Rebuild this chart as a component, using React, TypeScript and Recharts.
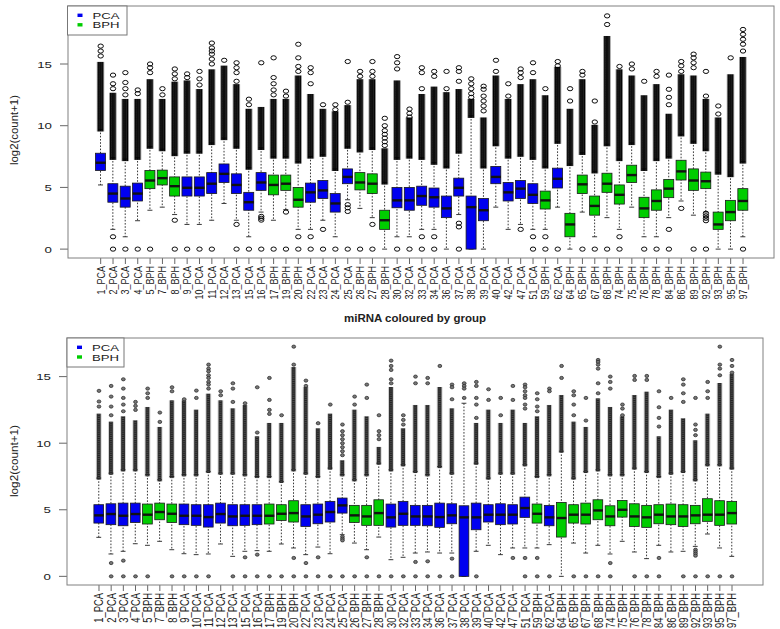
import React from 'react'
import { ComposedChart, Bar, Scatter, XAxis, YAxis } from 'recharts'

// sample order, same for both panels
const labels = [
  '1_PCA', '2_PCA', '3_PCA', '4_PCA', '5_BPH', '7_BPH', '8_BPH', '9_PCA', '10_PCA', '11_PCA',
  '12_PCA', '13_PCA', '15_PCA', '16_PCA', '17_BPH', '19_BPH', '20_BPH', '22_PCA', '23_PCA', '24_PCA',
  '25_PCA', '26_BPH', '27_BPH', '28_BPH', '30_PCA', '32_PCA', '33_PCA', '34_PCA', '36_PCA', '37_PCA',
  '38_PCA', '39_PCA', '40_PCA', '42_PCA', '47_PCA', '51_PCA', '59_BPH', '62_PCA', '64_BPH', '65_BPH',
  '67_BPH', '68_BPH', '74_BPH', '75_BPH', '76_BPH', '78_BPH', '84_BPH', '86_BPH', '89_BPH', '92_BPH',
  '93_BPH', '95_BPH', '97_BPH',
]
const yTicks = [0, 5, 10, 15]

// raw counts panel
const rawLo = [5.2, 1.6, 1.0, 2.3, 3.15, 3.4, 2.8, 2.0, 2.0, 2.34, 3.7, 2.34, 1.0, 3.0, 2.34, 3.2, 1.6, 1.6, 2.34, 1.0, 4.0, 3.3, 2.55, 0, 1.0, 1.0, 1.6, 1.6, 0, 2.8, 0, 0, 3.4, 1.6, 2.0, 1.6, 1.6, 3.4, 0, 3.0, 1.0, 2.55, 1.6, 3.4, 1.0, 1.0, 2.55, 3.9, 2.75, 3.0, 0, 0, 1.0]
const rawQ1 = [6.37, 3.8, 3.4, 3.9, 4.9, 5.2, 4.3, 4.3, 4.3, 4.5, 5.4, 4.5, 3.15, 4.76, 4.4, 4.76, 3.4, 3.8, 4.1, 3.0, 5.3, 4.8, 4.5, 1.6, 3.35, 3.15, 3.55, 3.4, 2.55, 4.3, 0, 2.3, 5.3, 3.9, 4.1, 3.7, 3.25, 4.95, 1.0, 4.5, 2.75, 4.6, 3.65, 5.4, 2.55, 3.15, 4.17, 5.6, 4.76, 4.9, 1.6, 2.3, 3.15]
const rawMed = [7.0, 4.5, 4.1, 4.5, 5.56, 5.75, 5.1, 4.97, 4.97, 5.3, 6.1, 5.2, 3.8, 5.4, 5.2, 5.3, 4.0, 4.6, 4.76, 3.7, 5.85, 5.4, 5.3, 2.34, 3.95, 3.95, 4.3, 4.2, 3.3, 4.97, 3.4, 3.15, 5.85, 4.6, 4.9, 4.4, 3.95, 5.7, 2.0, 5.25, 3.5, 5.3, 4.4, 6.0, 3.3, 3.9, 4.9, 6.3, 5.56, 5.5, 2.0, 3.0, 3.9]
const rawQ3 = [7.77, 5.3, 5.1, 5.35, 6.37, 6.4, 5.85, 5.85, 5.85, 6.2, 6.9, 6.1, 4.6, 6.2, 6.0, 6.0, 5.0, 5.35, 5.56, 4.5, 6.5, 6.2, 6.1, 3.15, 5.0, 5.0, 5.1, 4.95, 4.3, 5.75, 4.3, 4.1, 6.7, 5.4, 5.56, 5.3, 4.7, 6.56, 2.9, 6.0, 4.3, 6.15, 5.2, 6.8, 4.2, 4.8, 5.65, 7.2, 6.5, 6.24, 3.0, 3.95, 4.9]
const rawHi = [9.7, 7.4, 7.3, 7.4, 8.3, 8.1, 7.7, 7.9, 7.9, 8.6, 9.0, 8.3, 6.6, 8.2, 7.5, 7.5, 7.1, 7.5, 7.65, 6.5, 8.3, 8.0, 8.2, 5.4, 7.4, 7.5, 7.4, 7.0, 6.7, 7.9, 10.8, 6.7, 8.5, 7.5, 7.65, 7.4, 6.7, 8.7, 6.9, 7.8, 6.3, 8.5, 7.3, 8.6, 6.5, 7.3, 7.5, 9.3, 8.7, 8.1, 6.2, 6.0, 7.1]
// upper end of the packed run of outliers above each whisker
const rawDense = [15.0, 12.5, 12.0, 12.0, 13.6, 12.0, 13.4, 13.5, 12.8, 14.4, 14.7, 13.2, 11.2, 11.35, 12.0, 12.0, 13.9, 12.4, 11.2, 11.0, 11.5, 13.6, 13.6, 8.0, 13.5, 10.5, 12.4, 13.0, 12.55, 12.8, 12.0, 10.5, 13.9, 12.0, 13.2, 13.6, 12.3, 14.6, 11.2, 13.6, 9.9, 17.1, 14.4, 13.9, 12.3, 13.2, 10.8, 14.0, 13.9, 12.0, 10.5, 14.0, 15.4]
const rawOut = [
  [16.45, 16.05, 15.65], [14.1, 13.4, 13.0, 1.0, 0], [14.3, 13.5, 13.0, 12.5, 0], [12.9, 12.6, 0], [15.0, 14.7, 14.3, 0],
  [13.0, 12.5], [14.6, 14.2, 13.8, 2.34, 0], [14.2, 13.9, 0], [14.4, 13.8, 13.3, 0], [16.7, 16.3, 16.05, 15.8, 15.4, 15.0, 0],
  [15.3], [15.1, 14.7, 14.3, 13.6, 2.0, 0], [12.15, 11.7, 0], [15.1, 2.65, 2.5, 2.35, 0], [15.5, 13.9, 13.4, 12.9, 12.5, 0],
  [12.8, 12.4, 3.0, 0], [16.6, 15.5, 14.8, 14.4, 1.0, 0], [14.7, 14.3, 13.4, 1.0, 0], [11.7, 1.6, 0], [11.7, 11.3, 0],
  [15.2, 11.9, 3.6, 3.35, 3.05, 0], [14.4, 14.0, 0], [15.2, 14.4, 14.0, 2.0, 0], [10.6, 10.0, 9.6, 9.3, 9.0, 8.7, 8.4], [15.6, 15.1, 14.6, 0],
  [11.35, 11.0, 10.7, 0], [14.7, 14.3, 13.0, 1.0, 0], [14.4, 14.0, 1.0, 0], [14.4, 13.0], [14.7, 14.4, 13.6, 2.1, 1.8, 0],
  [13.8, 13.4, 13.0, 12.6, 12.3], [13.2, 12.95, 12.4, 12.0, 11.6, 11.2], [15.3, 14.4], [13.4, 12.4], [14.6, 14.3, 13.9, 1.6],
  [15.1, 14.3, 1.0, 0], [13.0, 1.0, 0], [15.2, 14.85, 0], [13.0, 12.0], [14.4, 14.1, 0],
  [12.0, 10.3, 0], [18.9, 18.2, 0], [14.8, 1.0, 0], [15.0, 14.6], [13.6, 0],
  [14.4, 14.0, 0], [14.1, 12.95, 12.3, 11.7, 1.6, 0], [15.2, 14.85, 14.4, 3.3], [15.8, 15.5, 15.1, 14.7, 0], [14.4, 12.4, 2.9, 2.7, 2.5, 2.3, 0],
  [11.6, 10.95], [15.5], [17.8, 17.4, 17.0, 16.6, 16.05, 0],
]

// normalised panel
const grpLo = [2.93, 1.68, 1.88, 2.45, 2.33, 2.63, 2.0, 1.7, 1.63, 1.68, 2.43, 1.5, 1.88, 1.93, 1.88, 2.43, 2.13, 1.63, 2.2, 1.7, 3.13, 2.5, 2.0, 2.95, 1.25, 1.43, 1.75, 1.83, 1.75, 1.75, 0, 1.88, 2.33, 1.63, 2.13, 2.13, 2.13, 2.38, 0, 2.5, 1.75, 2.33, 1.68, 2.63, 1.83, 1.33, 2.33, 1.83, 1.88, 2.25, 3.18, 2.13, 1.5]
const grpQ1 = [4.0, 3.88, 3.8, 4.05, 3.93, 4.25, 4.05, 3.88, 3.83, 3.7, 4.0, 3.8, 3.83, 3.88, 3.93, 4.2, 4.08, 3.75, 3.95, 4.08, 4.75, 4.05, 3.83, 3.83, 3.7, 3.83, 3.83, 3.8, 3.68, 3.95, 0, 3.5, 4.08, 3.88, 3.93, 4.43, 4.0, 3.8, 2.95, 4.0, 3.93, 4.25, 3.8, 4.45, 3.75, 3.68, 3.95, 3.88, 3.75, 3.95, 4.13, 3.83, 3.93]
const grpMed = [4.58, 4.68, 4.55, 4.68, 4.63, 4.83, 4.7, 4.55, 4.55, 4.45, 4.68, 4.5, 4.55, 4.55, 4.55, 4.7, 4.75, 4.5, 4.63, 4.83, 5.33, 4.58, 4.5, 4.75, 4.43, 4.7, 4.5, 4.5, 4.45, 4.58, 4.43, 4.43, 4.63, 4.63, 4.63, 5.13, 4.7, 4.43, 4.38, 4.63, 4.63, 4.95, 4.5, 5.0, 4.5, 4.43, 4.63, 4.5, 4.5, 4.58, 4.63, 4.63, 4.75]
const grpQ3 = [5.38, 5.45, 5.5, 5.5, 5.43, 5.5, 5.43, 5.43, 5.38, 5.38, 5.5, 5.38, 5.38, 5.38, 5.43, 5.38, 5.68, 5.38, 5.43, 5.63, 5.88, 5.33, 5.33, 5.75, 5.43, 5.63, 5.33, 5.33, 5.5, 5.45, 5.3, 5.5, 5.38, 5.45, 5.38, 5.95, 5.43, 5.33, 5.55, 5.38, 5.5, 5.75, 5.3, 5.7, 5.45, 5.33, 5.38, 5.43, 5.38, 5.33, 5.83, 5.68, 5.63]
const grpHi = [7.38, 7.75, 8.0, 8.0, 7.63, 7.25, 7.5, 7.63, 7.63, 7.88, 7.75, 7.75, 7.63, 7.5, 7.5, 7.13, 8.0, 7.75, 7.5, 8.13, 7.63, 7.25, 7.63, 8.5, 8.0, 8.38, 7.88, 7.63, 8.25, 7.75, 13.0, 8.5, 7.38, 7.75, 7.75, 8.38, 7.5, 7.63, 9.4, 7.38, 7.88, 8.0, 7.63, 7.63, 8.13, 7.88, 7.5, 7.75, 7.88, 7.25, 8.38, 8.38, 8.13]
const grpDense = [12.1, 11.5, 11.9, 11.6, 12.6, 11.1, 13.1, 13.1, 12.4, 13.6, 13.1, 12.5, 12.75, 10.4, 11.4, 11.4, 15.6, 14.1, 11.0, 12.1, 8.6, 12.4, 11.9, 9.6, 14.1, 11.0, 12.75, 12.75, 14.1, 12.5, 13.0, 11.4, 12.4, 11.4, 12.4, 11.4, 11.9, 12.75, 13.5, 11.5, 11.1, 13.25, 12.6, 11.9, 13.5, 13.75, 10.4, 12.4, 11.75, 10.1, 12.1, 14.4, 15.1]
const grpOut = [
  [13.93, 13.13, 12.75], [14.3, 13.5, 12.75, 12.1, 1.0, 0], [14.8, 14.1, 13.4, 12.9, 12.4, 1.18, 0], [13.1, 12.8, 12.5, 0], [14.1, 13.75, 13.4, 0],
  [12.3, 11.6], [14.2, 13.9, 0], [13.3, 0], [13.95, 13.4, 0], [15.9, 15.6, 15.4, 15.1, 14.9, 14.6, 14.4, 14.1, 0],
  [13.9, 13.6], [14.5, 14.1, 13.1, 0], [13.0, 1.43, 0], [14.2, 10.8, 1.63, 0], [14.9, 13.25, 12.5, 12.2, 0],
  [12.1, 0], [17.25, 15.9, 1.38, 0], [14.7, 14.3, 1.0, 0], [11.5, 1.43, 0], [12.9, 0],
  [11.4, 10.9, 10.6, 10.3, 10.0, 9.7, 9.4, 9.1, 2.98, 2.83, 2.7, 0], [13.5, 12.9, 0], [14.4, 13.4, 1.43, 0], [12.1, 10.9, 10.6, 10.3, 0], [16.2, 15.8, 15.5, 14.8, 14.5, 0],
  [12.1, 11.75, 11.4, 0], [15.0, 14.5, 1.08, 0], [14.9, 14.5, 1.13, 0], [15.8, 0], [14.4, 14.2, 13.3, 1.33, 0],
  [14.5, 14.3, 14.1, 13.4], [14.6, 14.3, 13.4, 12.9, 11.9, 0], [14.05, 13.25], [13.4, 12.1], [14.3, 13.25, 1.38],
  [14.4, 14.2, 13.9, 13.6, 13.4, 12.9, 12.6, 1.38, 0], [13.75, 13.3, 12.75, 12.4, 1.38, 0], [14.1, 13.9, 0], [15.8, 14.9], [13.9, 13.6, 12.9, 12.1, 0],
  [13.4, 11.7, 0], [16.25, 16.1, 15.9, 15.6, 14.5, 13.75, 0], [15.0, 14.6, 14.1, 1.0, 0], [12.9, 12.6, 12.1], [15.05, 14.75, 0],
  [15.05, 14.75, 0], [13.9, 12.7, 11.9, 11.25, 1.38, 0], [13.4], [14.8, 14.4, 13.75, 13.1, 0], [13.4, 11.4, 11.0, 10.6, 2.0, 1.85, 1.7, 1.55, 0],
  [14.6, 13.9, 13.4, 0], [17.25, 15.9, 15.6, 15.1, 0], [16.25, 15.8, 15.3, 0],
]

const COLORS: Record<string, string> = { PCA: '#0000F0', BPH: '#00CD00' }
const FONT = 'Liberation Sans, Arial, sans-serif'

function makeRows(lo: number[], q1: number[], med: number[], q3: number[], hi: number[], dense: number[]) {
  return labels.map((name, i) => ({
    name,
    group: name.endsWith('PCA') ? 'PCA' : 'BPH',
    lo: lo[i], q1: q1[i], med: med[i], q3: q3[i], hi: hi[i], dense: dense[i],
  }))
}

const flatOut = (out: number[][]) => labels.flatMap((name, i) => out[i].map(v => ({ name, v })))

type DotStyle = { rx: number; ry: number; step: number; stroke: string; fill: string; sw: number }

const rawDot: DotStyle = { rx: 2.7, ry: 2.1, step: 1.7, stroke: '#000', fill: 'none', sw: 0.95 }
const grpDot: DotStyle = { rx: 1.9, ry: 1.6, step: 1.9, stroke: '#111', fill: '#4a4a4a', sw: 0.7 }
const grpSparse: DotStyle = { ...grpDot, fill: '#777', stroke: '#222' }

const norm = (p: any) => {
  const top = Math.min(p.y, p.y + p.height)
  return { top, h: Math.abs(p.height), cx: p.x + p.width / 2 }
}

function WhiskerShape(p: any) {
  if (p.x == null || p.y == null) return null
  const { top, h, cx } = norm(p)
  const cap = p.width * 0.25
  return (
    <g stroke="#222" strokeWidth={0.9}>
      <line x1={cx} x2={cx} y1={top} y2={top + h} strokeDasharray="1.6 1.6" />
      <line x1={cx - cap} x2={cx + cap} y1={top} y2={top} />
      <line x1={cx - cap} x2={cx + cap} y1={top + h} y2={top + h} />
    </g>
  )
}

function BoxShape(p: any) {
  if (p.x == null || p.y == null) return null
  const { top, h } = norm(p)
  return <rect x={p.x} y={top} width={p.width} height={h} fill={COLORS[p.payload.group]} stroke="#1a1a1a" strokeWidth={0.8} />
}

const makeDense = (key: string, st: DotStyle) => (p: any) => {
  if (p.x == null || p.y == null) return null
  const { top, h, cx } = norm(p)
  if (h < 0.5) return null
  const id = `dn-${key}-${p.index}`
  const w = st.rx * 2 + 2
  const n = Math.ceil(st.ry / st.step) + 1
  const ks: number[] = []
  for (let k = -n; k <= n; k++) ks.push(k)
  return (
    <g>
      <defs>
        <pattern id={id} patternUnits="userSpaceOnUse" x={cx - w / 2} y={0} width={w} height={st.step}>
          {ks.map(k => (
            <ellipse key={k} cx={w / 2} cy={k * st.step} rx={st.rx} ry={st.ry} fill={st.fill} stroke={st.stroke} strokeWidth={st.sw} />
          ))}
        </pattern>
      </defs>
      <rect x={cx - w / 2} y={top - st.ry} width={w} height={h + st.ry * 2} fill={`url(#${id})`} />
    </g>
  )
}

const makeDot = (st: DotStyle) => (p: any) =>
  p.cx == null ? null : <ellipse cx={p.cx} cy={p.cy} rx={st.rx} ry={st.ry} fill={st.fill} stroke={st.stroke} strokeWidth={st.sw} />

const makeMedian = (half: number) => (p: any) =>
  p.cx == null ? null : <line x1={p.cx - half} x2={p.cx + half} y1={p.cy} y2={p.cy} stroke="#111" strokeWidth={2.4} />

const makeXTick = (fs: number) => (p: any) => (
  <text transform={`translate(${p.x},${p.y}) rotate(-90) scale(1,1.3)`} textAnchor="end" dominantBaseline="central"
    fontSize={fs} fontFamily={FONT} fill="#222">{p.payload.value}</text>
)

const YTick = (p: any) => {
  const s = String(p.payload.value)
  return (
    <text x={p.x} y={p.y} textAnchor="end" dominantBaseline="central" fontSize={9.5} fontFamily={FONT} fill="#222"
      textLength={s.length * 7.4} lengthAdjust="spacingAndGlyphs">{s}</text>
  )
}

interface PanelProps {
  id: string
  rows: ReturnType<typeof makeRows>
  outliers: { name: string; v: number }[]
  height: number
  margin: { top: number; right: number; bottom: number; left: number }
  yWidth: number
  xHeight: number
  pad: { left: number; right: number }
  domain: [number, number]
  boxW: number
  dot: DotStyle
  sparse: DotStyle
  labelSize: number
}

function Panel({ id, rows, outliers, height, margin, yWidth, xHeight, pad, domain, boxW, dot, sparse, labelSize }: PanelProps) {
  const medians = rows.map(r => ({ name: r.name, v: r.med }))
  return (
    <ComposedChart width={780} height={height} data={rows} margin={margin}>
      <XAxis xAxisId="a" dataKey="name" type="category" allowDuplicatedCategory={false} interval={0} padding={pad}
        height={xHeight} tick={makeXTick(labelSize)} tickSize={6} tickLine={{ stroke: '#666' }} axisLine={false} />
      <XAxis xAxisId="w" dataKey="name" type="category" allowDuplicatedCategory={false} padding={pad} hide />
      <XAxis xAxisId="d" dataKey="name" type="category" allowDuplicatedCategory={false} padding={pad} hide />
      <YAxis type="number" domain={domain} ticks={yTicks} allowDataOverflow width={yWidth} tick={YTick}
        tickSize={8} tickMargin={8} tickLine={{ stroke: '#666' }} axisLine={false} />
      <Bar xAxisId="w" dataKey={(r: any) => [r.lo, r.hi]} barSize={boxW} shape={WhiskerShape} isAnimationActive={false} />
      <Bar xAxisId="d" dataKey={(r: any) => [r.hi, r.dense]} barSize={boxW} shape={makeDense(id, dot)} isAnimationActive={false} />
      <Bar xAxisId="a" dataKey={(r: any) => [r.q1, r.q3]} barSize={boxW} shape={BoxShape} isAnimationActive={false} />
      <Scatter xAxisId="a" data={medians} dataKey="v" shape={makeMedian(boxW / 2)} isAnimationActive={false} />
      <Scatter xAxisId="a" data={outliers} dataKey="v" shape={makeDot(sparse)} isAnimationActive={false} />
    </ComposedChart>
  )
}

function LegendBox({ x, y, w, h, rows }: { x: number; y: number; w: number; h: number; rows: number[] }) {
  const names = ['PCA', 'BPH']
  return (
    <g>
      <rect x={x} y={y} width={w} height={h} fill="#fff" stroke="#777" strokeWidth={1} />
      {names.map((n, i) => (
        <g key={n}>
          <rect x={x + 10} y={rows[i] - 1.7} width={5} height={3.4} fill={COLORS[n]} />
          <text x={x + 25} y={rows[i]} dominantBaseline="central" fontSize={9.5} fontFamily={FONT} fill="#222"
            textLength={27} lengthAdjust="spacingAndGlyphs">{n}</text>
        </g>
      ))}
    </g>
  )
}

export default function App() {
  const rawRows = makeRows(rawLo, rawQ1, rawMed, rawQ3, rawHi, rawDense)
  const grpRows = makeRows(grpLo, grpQ1, grpMed, grpQ3, grpHi, grpDense)
  return (
    <div style={{ position: 'absolute', left: 0, top: 0, width: 780, height: 629, background: '#fff', overflow: 'hidden' }}>
      <div style={{ position: 'absolute', left: 0, top: 0 }}>
        <Panel id="raw" rows={rawRows} outliers={flatOut(rawOut)} height={305}
          margin={{ top: 6, right: 6, bottom: 0, left: 0 }} yWidth={68} xHeight={47}
          pad={{ left: 26.5, right: 24.8 }} domain={[-0.72, 19.7]} boxW={10} dot={rawDot} sparse={rawDot} labelSize={9} />
      </div>
      <div style={{ position: 'absolute', left: 0, top: 305 }}>
        <Panel id="grp" rows={grpRows} outliers={flatOut(grpOut)} height={324}
          margin={{ top: 33, right: 17, bottom: 0, left: 0 }} yWidth={67} xHeight={44}
          pad={{ left: 25.9, right: 24.9 }} domain={[-0.65, 17.9]} boxW={9.7} dot={grpDot} sparse={grpSparse} labelSize={9.4} />
      </div>
      <svg width={780} height={629} style={{ position: 'absolute', left: 0, top: 0, pointerEvents: 'none' }}>
        <rect x={68} y={6} width={706} height={252} fill="none" stroke="#808080" strokeWidth={1} />
        <rect x={67} y={338} width={696} height={247} fill="none" stroke="#808080" strokeWidth={1} />
        <LegendBox x={67.5} y={6} w={59.5} h={29} rows={[15.3, 24.8]} />
        <LegendBox x={67} y={338} w={57} h={29} rows={[347.3, 357]} />
        <text x={415} y={318} textAnchor="middle" dominantBaseline="central" fontSize={10} fontWeight="bold"
          fontFamily={FONT} fill="#222" textLength={142} lengthAdjust="spacingAndGlyphs">miRNA coloured by group</text>
        <text transform="translate(14,130) rotate(-90)" textAnchor="middle" dominantBaseline="central" fontSize={10}
          fontFamily={FONT} fill="#222" textLength={70} lengthAdjust="spacingAndGlyphs">log2(count+1)</text>
        <text transform="translate(14,461) rotate(-90)" textAnchor="middle" dominantBaseline="central" fontSize={10}
          fontFamily={FONT} fill="#222" textLength={72} lengthAdjust="spacingAndGlyphs">log2(count+1)</text>
      </svg>
    </div>
  )
}
